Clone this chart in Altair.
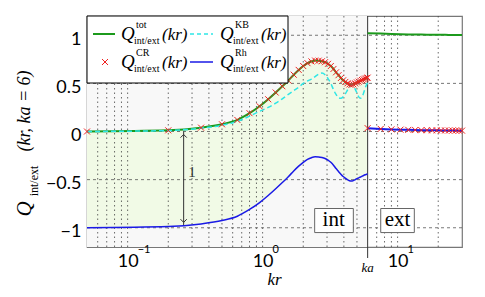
import altair as alt
import pandas as pd

# ---------------- data ----------------
x_int = [0.05, 0.2, 0.35, 0.5, 0.65, 0.8, 0.95, 1.1, 1.25, 1.4, 1.55, 1.7, 1.85, 2.0,
         2.15, 2.3, 2.45, 2.6, 2.75, 2.9, 3.05, 3.2, 3.35, 3.5, 3.65, 3.8, 3.95, 4.1,
         4.25, 4.4, 4.55, 4.7, 4.85, 5.0, 5.15, 5.3, 5.45, 5.6, 5.75, 5.9, 6.0]
q_cr_int = [0.0, 0.012, 0.04, 0.075, 0.12, 0.19, 0.262, 0.335, 0.405, 0.47, 0.53, 0.59,
            0.64, 0.68, 0.71, 0.728, 0.737, 0.736, 0.73, 0.72, 0.703, 0.68, 0.65, 0.615,
            0.585, 0.556, 0.532, 0.515, 0.5, 0.489, 0.485, 0.49, 0.5, 0.51, 0.518, 0.527,
            0.535, 0.543, 0.55, 0.556, 0.56]
q_tot_int = [0.0, 0.012, 0.04, 0.075, 0.12, 0.19, 0.262, 0.335, 0.405, 0.47, 0.53, 0.59,
             0.64, 0.68, 0.71, 0.728, 0.737, 0.736, 0.73, 0.72, 0.703, 0.68, 0.65, 0.615,
             0.585, 0.556, 0.532, 0.515, 0.5, 0.489, 0.485, 0.49, 0.5, 0.51, 0.518, 0.527,
             0.535, 0.543, 0.55, 0.556, 0.56]
q_rh_int = [-1.0, -0.988, -0.96, -0.925, -0.88, -0.81, -0.738, -0.665, -0.595, -0.53,
            -0.47, -0.41, -0.36, -0.32, -0.29, -0.272, -0.263, -0.264, -0.27, -0.28,
            -0.297, -0.32, -0.35, -0.385, -0.415, -0.444, -0.468, -0.485, -0.5, -0.511,
            -0.515, -0.51, -0.5, -0.49, -0.482, -0.473, -0.465, -0.457, -0.45, -0.444, -0.44]
q_kb_int = [0.0, 0.01, 0.035, 0.065, 0.105, 0.16, 0.21, 0.25, 0.295, 0.34, 0.385, 0.425,
            0.46, 0.5, 0.525, 0.545, 0.57, 0.595, 0.607, 0.59, 0.55, 0.5, 0.435, 0.385,
            0.35, 0.345, 0.36, 0.39, 0.43, 0.465, 0.483, 0.475, 0.44, 0.4, 0.36, 0.345,
            0.36, 0.4, 0.45, 0.49, 0.505]

x_ext = [6.0, 7.5, 9.0, 10.5, 12.0, 13.5, 15.0, 16.5, 18.0, 19.5, 21.0, 22.5, 24.0,
         25.5, 27.0, 28.5, 30.0]
q_tot_ext = [1.022, 1.017, 1.013, 1.011, 1.009, 1.008, 1.007, 1.006, 1.005, 1.005,
             1.004, 1.004, 1.003, 1.003, 1.003, 1.002, 1.002]
q_cr_ext = [0.035, 0.027, 0.022, 0.019, 0.017, 0.015, 0.014, 0.013, 0.012, 0.012,
            0.011, 0.011, 0.010, 0.010, 0.010, 0.009, 0.009]
q_rh_ext = [0.035, 0.027, 0.022, 0.019, 0.017, 0.015, 0.014, 0.013, 0.012, 0.012,
            0.011, 0.011, 0.010, 0.010, 0.010, 0.009, 0.009]

ka = 6.0
x_domain = [0.05, 30]
y_domain = [-1.2, 1.2]
y_ticks = [-1, -0.5, 0, 0.5, 1]
x_ticks = [0.1, 1, 10]
x_exps = ["\u22121", "0", "1"]
x_grid = [0.06, 0.07, 0.08, 0.09, 0.1, 0.2, 0.3, 0.4, 0.5, 0.6, 0.7, 0.8, 0.9,
          1, 2, 3, 4, 5, 7, 8, 9, 10, 20]
arrow_x = 0.26
arrow_top = 0.0
arrow_bottom = -0.975

W, H = 375, 231
SERIF = "Liberation Serif"
SANS = "Lato"

xs = alt.Scale(type="log", domain=x_domain, nice=False)
ys = alt.Scale(domain=y_domain, nice=False, zero=False)
xaxis = alt.Axis(values=x_ticks, labelExpr="'10'", grid=False, ticks=False, domain=False,
                 labelFont=SANS, labelFontSize=18, labelColor="black", labelPadding=5,
                 title=None)
yaxis = alt.Axis(values=y_ticks, format="~g", grid=False, ticks=False, domain=False,
                 labelFont=SANS, labelFontSize=18, labelColor="black", labelPadding=6,
                 labelOffset=4, title=None)

X = lambda f="x": alt.X(f"{f}:Q", scale=xs, axis=xaxis)
Y = lambda f="y": alt.Y(f"{f}:Q", scale=ys, axis=yaxis)

df_int = pd.DataFrame({"x": x_int, "cr": q_cr_int, "tot": q_tot_int, "rh": q_rh_int, "kb": q_kb_int})
df_ext = pd.DataFrame({"x": x_ext, "tot": q_tot_ext, "cr": q_cr_ext, "rh": q_rh_ext})

layers = []

# interior background
layers.append(alt.Chart(pd.DataFrame({"x": [x_domain[0]], "x2": [ka]})).mark_rect(
    color="#f8f8f8").encode(x=X(), x2="x2:Q", y=alt.value(0), y2=alt.value(H)))

# green fill between Rh and CR
layers.append(alt.Chart(df_int).mark_area(color="#f1fae6", opacity=1, interpolate="monotone").encode(
    x=X(), y=Y("rh"), y2="cr:Q"))

# grid lines
layers.append(alt.Chart(pd.DataFrame({"x": x_grid})).mark_rule(
    color="#444", strokeDash=[1.5, 3], strokeWidth=0.8).encode(
    x=X(), y=alt.value(0), y2=alt.value(H)))
layers.append(alt.Chart(pd.DataFrame({"y": y_ticks})).mark_rule(
    color="#555", strokeDash=[3, 3], strokeWidth=0.8).encode(
    y=Y(), x=alt.value(0), x2=alt.value(W)))

# ka line and long tick
layers.append(alt.Chart(pd.DataFrame({"x": [ka]})).mark_rule(
    color="#333", strokeWidth=1).encode(x=X(), y=alt.value(0), y2=alt.value(H + 11)))

# arrow
arr = pd.DataFrame({"x": [arrow_x], "y": [arrow_top], "y2": [arrow_bottom]})
layers.append(alt.Chart(arr).mark_rule(color="#333", strokeWidth=1).encode(
    x=X(), y=Y(), y2="y2:Q"))
layers.append(alt.Chart(pd.DataFrame({"x": [arrow_x], "y": [arrow_top]})).mark_point(
    shape="M-1,1L0,0L1,1", filled=False, color="#333", size=40, strokeWidth=1,
    opacity=1).encode(x=X(), y=Y(), yOffset=alt.value(3)))
layers.append(alt.Chart(pd.DataFrame({"x": [arrow_x], "y": [arrow_bottom]})).mark_point(
    shape="M-1,-1L0,0L1,-1", filled=False, color="#333", size=40, strokeWidth=1,
    opacity=1).encode(x=X(), y=Y(), yOffset=alt.value(-3)))
layers.append(alt.Chart(pd.DataFrame({"x": [0.30], "y": [-0.42], "t": ["1"]})).mark_text(
    font=SERIF, fontSize=15, color="#333").encode(x=X(), y=Y(), text="t:N"))

# curves, interior
layers.append(alt.Chart(df_int).mark_line(color="#1c9a1c", strokeWidth=2,
                                          interpolate="monotone").encode(x=X(), y=Y("tot")))
layers.append(alt.Chart(df_int).mark_line(color="#2ee6e6", strokeWidth=1.5, strokeDash=[5, 3],
                                          interpolate="monotone").encode(x=X(), y=Y("kb")))
layers.append(alt.Chart(df_int).mark_line(color="#1a1ae6", strokeWidth=1.5,
                                          interpolate="monotone").encode(x=X(), y=Y("rh")))
# curves, exterior
layers.append(alt.Chart(df_ext).mark_line(color="#1c9a1c", strokeWidth=2).encode(x=X(), y=Y("tot")))
layers.append(alt.Chart(df_ext).mark_line(color="#1a1ae6", strokeWidth=2).encode(x=X(), y=Y("rh")))

XSHAPE = "M-1,-1L1,1M-1,1L1,-1"
layers.append(alt.Chart(df_int).mark_point(shape=XSHAPE, filled=False, color="#f02020",
                                           size=36, strokeWidth=1, opacity=1).encode(x=X(), y=Y("cr")))
layers.append(alt.Chart(df_ext).mark_point(shape=XSHAPE, filled=False, color="#f02020",
                                           size=36, strokeWidth=1, opacity=1).encode(x=X(), y=Y("cr")))

# int / ext boxes
boxes = pd.DataFrame({"x": [2.43, 7.5], "x2": [4.7, 13.3], "y": [-0.80, -0.80], "y2": [-1.05, -1.05]})
layers.append(alt.Chart(boxes).mark_rect(fill="white", stroke="#666", strokeWidth=1).encode(
    x=X(), x2="x2:Q", y=Y(), y2="y2:Q"))
layers.append(alt.Chart(pd.DataFrame({"x": [3.36, 10.0], "y": [-0.92, -0.92], "t": ["int", "ext"]})).mark_text(
    font=SERIF, fontSize=21, color="black", baseline="middle").encode(x=X(), y=Y(), text="t:N"))

# x tick exponents and ka label
layers.append(alt.Chart(pd.DataFrame({"x": x_ticks, "t": x_exps})).mark_text(
    font=SANS, fontSize=11, color="black", align="left", dx=10).encode(
    x=X(), y=alt.value(H + 3), text="t:N"))
layers.append(alt.Chart(pd.DataFrame({"x": [ka], "t": ["ka"]})).mark_text(
    font=SERIF, fontStyle="italic", fontSize=13, color="black").encode(
    x=X(), y=alt.value(H + 21), text="t:N"))


def txt(t, x, y, size, italic=False, align="left", angle=0, font=SERIF, baseline="middle"):
    kw = dict(font=font, fontSize=size, color="black", align=align, baseline=baseline)
    if italic:
        kw["fontStyle"] = "italic"
    if angle:
        kw["angle"] = angle
    return alt.Chart(alt.Data(values=[{"t": t}])).mark_text(**kw).encode(
        x=alt.value(x), y=alt.value(y), text="t:N")


# x title
layers.append(txt("kr", W / 2, H + 33, 17, italic=True, align="center", baseline="middle"))

# y title (rotated)
layers.append(txt("Q", -62, 193, 21, italic=True, align="center", angle=270))
layers.append(txt("int/ext", -53, 165, 12, align="center", angle=270))
layers.append(txt("(kr, ka = 6)", -62, 95, 18, italic=True, align="center", angle=270))

# legend box
layers.append(alt.Chart(alt.Data(values=[{}])).mark_rect(fill="white", stroke="black", strokeWidth=1).encode(
    x=alt.value(0), x2=alt.value(201), y=alt.value(0), y2=alt.value(67)))
layers.append(alt.Chart(alt.Data(values=[{}])).mark_rule(color="#1c9a1c", strokeWidth=2).encode(
    x=alt.value(6), x2=alt.value(28), y=alt.value(18)))
layers.append(alt.Chart(alt.Data(values=[{}])).mark_point(
    shape=XSHAPE, filled=False, color="#f02020", size=36, strokeWidth=1, opacity=1).encode(
    x=alt.value(18), y=alt.value(46)))
layers.append(alt.Chart(alt.Data(values=[{}])).mark_rule(color="#2ee6e6", strokeWidth=1.5, strokeDash=[4, 3]).encode(
    x=alt.value(103), x2=alt.value(126), y=alt.value(18)))
layers.append(alt.Chart(alt.Data(values=[{}])).mark_rule(color="#1a1ae6", strokeWidth=1.5).encode(
    x=alt.value(103), x2=alt.value(126), y=alt.value(46)))

legend_labels = [("tot", 34, 18), ("CR", 34, 46), ("KB", 133, 18), ("Rh", 133, 46)]
for sup, lx, ly in legend_labels:
    layers.append(txt("Q", lx, ly, 19, italic=True))
    layers.append(txt(sup, lx + 15, ly - 9, 10))
    layers.append(txt("int/ext", lx + 13, ly + 7, 10))
    layers.append(txt("(kr)", lx + 41, ly + 1, 17, italic=True))

chart = alt.layer(*layers).properties(
    width=W, height=H,
    padding={"left": 79, "top": 8, "right": 15, "bottom": 42},
    autosize=alt.AutoSizeParams(type="none"),
).configure_view(stroke="#777", strokeWidth=1.2)

chart.save("out.html", embed_options={"renderer": "svg", "actions": False})
